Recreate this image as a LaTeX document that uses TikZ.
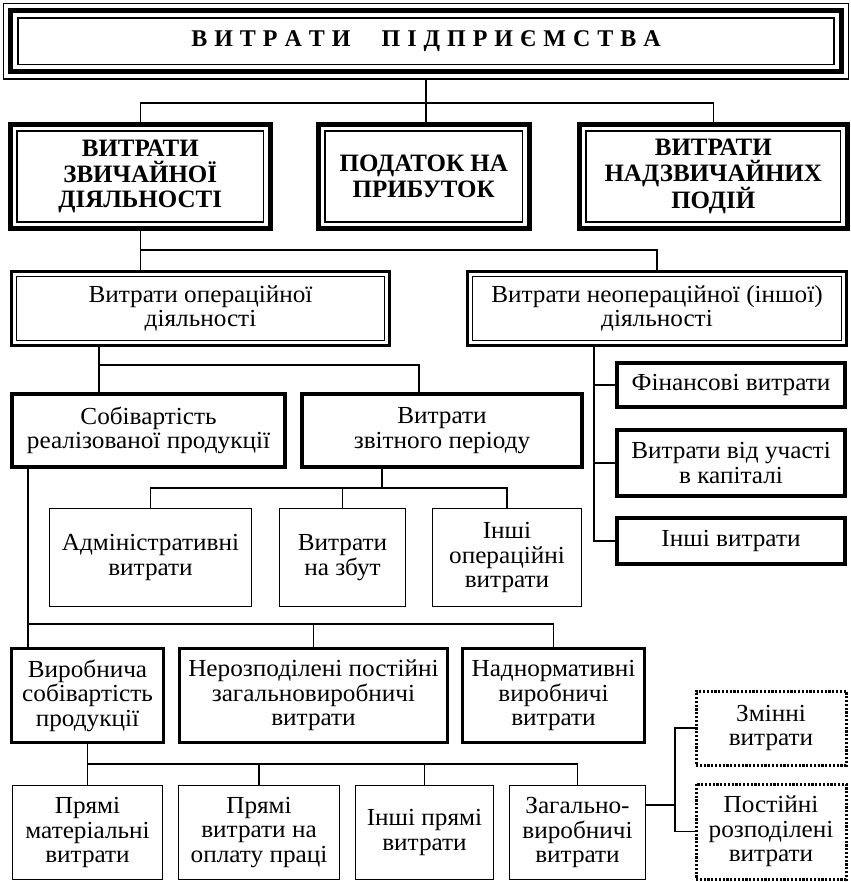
\documentclass[tikz,border=0pt]{standalone}
\usepackage{fontspec}
\setmainfont{Liberation Serif}
\newfontfamily\nfam[FakeStretch=1.03]{Liberation Serif}
\newcommand\nf{\nfam\fontsize{24.5}{24.5}\selectfont}
\newcommand\bfnt{\fontsize{25}{25.5}\selectfont\bfseries}
\newcommand\lk{\kern7pt}
\newcommand\bx[7]{\node[#6, minimum width={#4-#2}, minimum height={#5-#3}] (#1) at ({(#2+#4)/2},{(#3+#5)/2}) {#7};}
\tikzset{
  base/.style={inner sep=0pt, outer sep=0pt, align=center, font=\nf},
  thin/.style={base, draw, line width=1.3pt},
  med/.style={base, draw, line width=2.8pt},
  thick/.style={base, draw, line width=4pt},
  lvtwo/.style={base, draw, line width=5pt, font=\bfnt},
  lvthree/.style={base, draw, line width=2.8pt},
  dotbox/.style={base, draw, line width=3pt, dash pattern=on 2.2pt off 1.6pt},
  conn/.style={line width=1.3pt},
  connb/.style={line width=1.9pt},
}
\begin{document}
\begin{tikzpicture}[x=1pt,y=-1pt]
\useasboundingbox (0,0) rectangle (850,882);
% title
\bx{title}{3.5}{3.5}{848.5}{79}{base, draw, line width=1.5pt, font=\fontsize{24}{24}\selectfont\bfseries}{В\lk И\lk Т\lk Р\lk А\lk Т\lk И\kern31pt П\lk І\lk Д\lk П\lk Р\lk И\lk Є\lk М\lk С\lk Т\lk В\lk А}
\draw[line width=5pt] ([shift={(7,7)}]title.north west) rectangle ([shift={(-7,-7)}]title.south east);
\draw[line width=1.5pt] ([shift={(14.5,14.5)}]title.north west) rectangle ([shift={(-14.5,-14.5)}]title.south east);
% level 2
\bx{A}{10.5}{124.5}{270}{228.5}{lvtwo}{ВИТРАТИ\\ЗВИЧАЙНОЇ\\ДІЯЛЬНОСТІ}
\bx{B}{318.5}{124.5}{529}{228.5}{lvtwo}{ПОДАТОК НА\\ПРИБУТОК}
\bx{C}{579.5}{124.5}{847}{228.5}{lvtwo}{ВИТРАТИ\\НАДЗВИЧАЙНИХ\\ПОДІЙ}
\foreach \n in {A,B,C}{
  \draw[line width=1.4pt] ([shift={(6.5,6.5)}]\n.north west) rectangle ([shift={(-6.5,-6.5)}]\n.south east);
}
% level 3
\bx{D}{11.5}{271.5}{389.5}{345.5}{lvthree}{Витрати операційної\\діяльності}
\bx{E}{467.5}{271.5}{846.5}{345.5}{lvthree}{Витрати неопераційної (іншої)\\діяльності}
\foreach \n in {D,E}{
  \draw[line width=1.2pt] ([shift={(4.7,4.7)}]\n.north west) rectangle ([shift={(-4.7,-4.7)}]\n.south east);
}
% level 4
\bx{F}{12}{394}{285}{467}{thick}{Собівартість\\реалізованої продукції}
\bx{G}{302}{394}{582}{467}{thick}{Витрати\\звітного періоду}
\bx{K}{617}{363}{845}{407}{thick}{Фінансові витрати}
\bx{L}{617}{430}{845}{496}{thick}{Витрати від участі\\в капіталі}
\bx{M}{617}{518}{845}{564}{thick}{Інші витрати}
% level 5
\bx{H}{49.5}{508.5}{251.5}{606.5}{thin}{Адміністративні\\витрати}
\bx{I}{279.5}{508.5}{405.5}{606.5}{thin}{Витрати\\на збут}
\bx{J}{432.5}{508.5}{581.5}{606.5}{thin}{Інші\\операційні\\витрати}
% level 6
\bx{N}{11.5}{648.5}{163.5}{742.5}{med}{Виробнича\\собівартість\\продукції}
\bx{O}{179.5}{648.5}{447.5}{742.5}{med}{Нерозподілені постійні\\загальновиробничі\\витрати}
\bx{P}{462.5}{648.5}{644.5}{742.5}{med}{Наднормативні\\виробничі\\витрати}
% level 7
\bx{Q}{12.5}{785.5}{162.5}{879.5}{thin}{Прямі\\матеріальні\\витрати}
\bx{R}{178.5}{785.5}{339.5}{879.5}{thin}{Прямі\\витрати на\\оплату праці}
\bx{S}{355.5}{785.5}{493.5}{879.5}{thin}{Інші прямі\\витрати}
\bx{T}{509.5}{785.5}{645.5}{879.5}{thin}{Загально-\\виробничі\\витрати}
\bx{U}{696}{691}{846}{765}{dotbox}{Змінні\\витрати}
\bx{V}{696}{784}{846}{879}{dotbox}{Постійні\\розподілені\\витрати}
% connectors
\coordinate (tH) at (0,103);
\draw[conn] (title.south) -- (title.south |- B.north);
\draw[conn] (A.north) -- (A.north |- tH) -| (C.north);
\coordinate (aH) at (0,250);
\draw[conn] (A.south) -- (A.south |- aH) -| (E.north);
\draw[conn] (A.south |- aH) -- (A.south |- D.north);
\coordinate (dJ) at (99,365);
\coordinate (dR) at (419,365);
\draw[conn] (dJ |- D.south) -- (dJ |- F.north);
\draw[conn] (dJ) -- (dR) -- (dR |- G.north);
\coordinate (gJ) at (382,488);
\draw[conn] (gJ |- G.south) -- (gJ);
\draw[conn] (H.north) |- (gJ -| J.north) -- (J.north);
\draw[conn] (I.north) -- (I.north |- gJ);
\coordinate (eX) at (594,0);
\draw[conn] (eX |- E.south) -- (eX |- M.west) -- (M.west);
\draw[conn] (eX |- K.west) -- (K.west);
\draw[conn] (eX |- L.west) -- (L.west);
\coordinate (fJ) at (28,624);
\draw[conn] (fJ |- F.south) -- (fJ) -- (fJ -| P.north) -- (P.north);
\draw[conn] (fJ) -- (fJ |- N.north);
\draw[conn] (fJ -| O.north) -- (O.north);
\coordinate (nH) at (0,764);
\draw[connb] (N.south) -- (N.south |- nH) -| (T.north);
\draw[connb] (N.south |- nH) -- (Q.north);
\draw[connb] (R.north) -- (R.north |- nH);
\draw[connb] (S.north) -- (S.north |- nH);
\coordinate (tJ) at (675,805);
\draw[connb] (T.east |- tJ) -- (tJ);
\draw[connb] (U.west) -| (tJ |- V.west) -- (V.west);
\end{tikzpicture}
\end{document}
